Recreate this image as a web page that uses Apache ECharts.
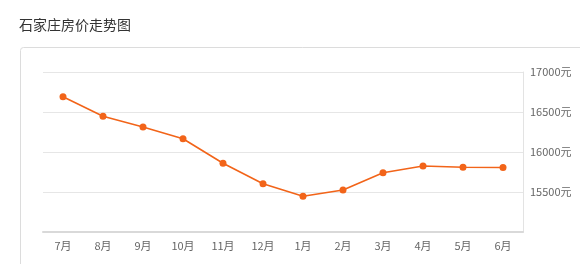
<!DOCTYPE html>
<html>
<head>
<meta charset="utf-8">
<script src="https://cdn.jsdelivr.net/npm/echarts@6/dist/echarts.min.js"></script>
<style>
html,body{margin:0;padding:0;background:#fff;}
#c{width:580px;height:264px;}
</style>
</head>
<body>
<div id="c"></div>
<script>
var titleText = '石家庄房价走势图';
var months = ['7月','8月','9月','10月','11月','12月','1月','2月','3月','4月','5月','6月'];
var prices = [16690, 16446, 16312, 16166, 15859, 15604, 15446, 15525, 15741, 15825, 15809, 15806];
var yMin = 15000, yMax = 17000, yStep = 500;
var unit = '元';

var chart = echarts.init(document.getElementById('c'), null, {renderer:'canvas'});
chart.setOption({
  animation:false,
  backgroundColor:'#fff',
  title:{
    text:titleText, left:14, top:13,
    textStyle:{fontSize:14, fontWeight:'normal', color:'#333', fontFamily:'"Noto Sans CJK SC", sans-serif'}
  },
  graphic:[{
    type:'rect', left:20, top:47, z:-1,
    shape:{width:600, height:240, r:3},
    style:{fill:'#fff', stroke:'#dcdcdc', lineWidth:1}
  }],
  grid:{left:43, right:57, top:72, bottom:32},
  xAxis:{
    type:'category', data:months, boundaryGap:true,
    axisLine:{lineStyle:{color:'#d9d9d9', width:2}},
    axisTick:{alignWithLabel:true, length:3, lineStyle:{color:'#d9d9d9'}},
    axisLabel:{color:'#666', fontSize:11, margin:8, fontFamily:'"Noto Sans CJK SC", sans-serif'}
  },
  yAxis:{
    type:'value', position:'right', min:yMin, max:yMax, interval:yStep,
    axisLine:{show:true, lineStyle:{color:'#e3e3e3'}},
    axisTick:{show:false},
    splitLine:{lineStyle:{color:'#e6e6e6'}},
    axisLabel:{
      color:'#666', fontSize:11, margin:7, fontFamily:'"Noto Sans CJK SC", sans-serif',
      formatter:function(v){ return v===yMin ? '' : v + unit; }
    }
  },
  series:[{
    type:'line', data:prices,
    symbol:'circle', symbolSize:7,
    lineStyle:{color:'#f26419', width:1.6},
    itemStyle:{color:'#f26419'}
  }]
});
</script>
</body>
</html>
